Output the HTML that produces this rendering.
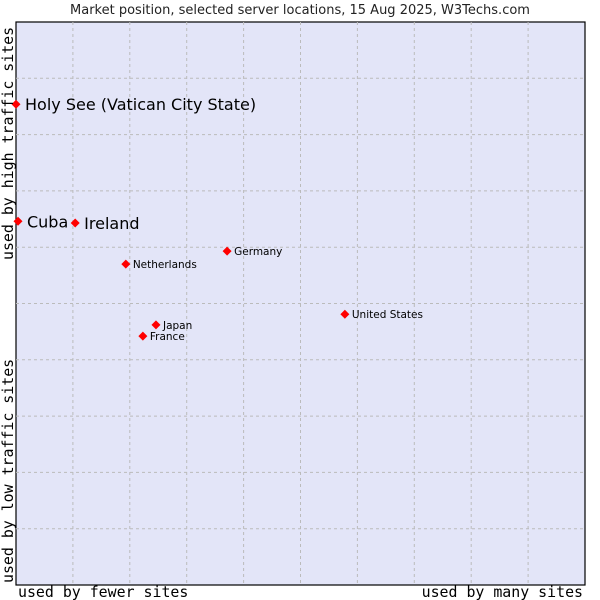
<!DOCTYPE html>
<html><head><meta charset="utf-8"><style>
body{margin:0;background:#fff;}
svg{display:block;}
</style></head><body>
<svg id="chart" width="600" height="600" xmlns="http://www.w3.org/2000/svg">
<rect x="0" y="0" width="600" height="600" fill="#fff"/>
<text x="300" y="14" text-anchor="middle" font-family="DejaVu Sans, sans-serif" font-size="13" fill="#222">Market position, selected server locations, 15 Aug 2025, W3Techs.com</text>
<rect x="16" y="22" width="569" height="563" fill="#e3e5f8" stroke="#000" stroke-width="1.2"/>
<g id="grid"></g>
<g id="points"></g>
<text x="18" y="597" font-family="DejaVu Sans Mono, monospace" font-size="14.9" fill="#000">used by fewer sites</text>
<text x="583" y="597" text-anchor="end" font-family="DejaVu Sans Mono, monospace" font-size="14.9" fill="#000">used by many sites</text>
<text transform="translate(13,583) rotate(-90)" font-family="DejaVu Sans Mono, monospace" font-size="14.9" fill="#000">used by low traffic sites</text>
<text transform="translate(13,260) rotate(-90)" font-family="DejaVu Sans Mono, monospace" font-size="14.9" fill="#000">used by high traffic sites</text>
</svg>
<script>
const names = ["Holy See (Vatican City State)","Cuba","Ireland","Netherlands","Germany","United States","Japan","France"];
const xValues = [0,0.35,10.4,19.3,37.1,57.8,24.6,22.3];
const yValues = [85.4,64.6,64.3,57.0,59.3,48.1,46.2,44.2];
const bigLabel = [true,true,true,false,false,false,false,false];
const gridTicks = [10,20,30,40,50,60,70,80,90];
const L=16,T=22,W=569,H=563;
function sx(v){return L+v/100*W;}
function sy(v){return T+H-v/100*H;}
const NS="http://www.w3.org/2000/svg";
const grid=document.getElementById('grid');
gridTicks.forEach(t=>{
  const v=document.createElementNS(NS,'line');
  v.setAttribute('x1',sx(t));v.setAttribute('x2',sx(t));v.setAttribute('y1',T);v.setAttribute('y2',T+H);
  v.setAttribute('stroke','#bbb');v.setAttribute('stroke-dasharray','3,3');
  
  
  grid.appendChild(v);
  const h=document.createElementNS(NS,'line');
  h.setAttribute('y1',sy(t));h.setAttribute('y2',sy(t));h.setAttribute('x1',L);h.setAttribute('x2',L+W);
  h.setAttribute('stroke','#bbb');h.setAttribute('stroke-dasharray','3,3');
  
  
  grid.appendChild(h);
});
const pts=document.getElementById('points');
names.forEach((n,i)=>{
  const x=sx(xValues[i]),y=sy(yValues[i]);
  const d=document.createElementNS(NS,'path');
  d.setAttribute('d',`M${x} ${y-4.5}L${x+4.5} ${y}L${x} ${y+4.5}L${x-4.5} ${y}Z`);
  d.setAttribute('fill','#f00');
  
  
  pts.appendChild(d);
  const t=document.createElementNS(NS,'text');
  const big=bigLabel[i];
  t.setAttribute('x',x+(big?9:7));
  t.setAttribute('y',y+(big?6:4));
  t.setAttribute('font-family','DejaVu Sans, sans-serif');
  t.setAttribute('font-size',big?16:10.5);
  t.setAttribute('fill','#000');
  t.textContent=n;
  
  
  pts.appendChild(t);
});
</script>
</body></html>
